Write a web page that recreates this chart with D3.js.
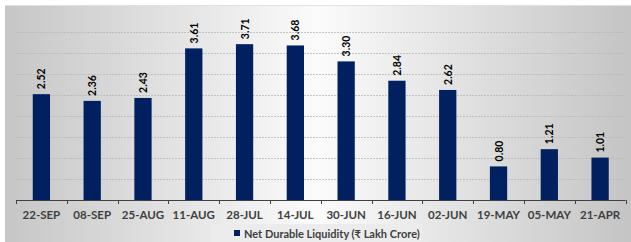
<!DOCTYPE html>
<html><head><meta charset="utf-8">
<script src="https://cdn.jsdelivr.net/npm/d3@7"></script>
<style>body{margin:0;background:#fff}svg{display:block}</style>
</head><body>
<script>
const categories = ["22-SEP","08-SEP","25-AUG","11-AUG","28-JUL","14-JUL","30-JUN","16-JUN","02-JUN","19-MAY","05-MAY","21-APR"];
const values = [2.52,2.36,2.43,3.61,3.71,3.68,3.30,2.84,2.62,0.80,1.21,1.01];
const gridTicks = [0,0.5,1,1.5,2,2.5,3,3.5,4];
const seriesName = "Net Durable Liquidity (₹ Lakh Crore)";

const W=631,H=242;
const svg=d3.select("body").append("svg").attr("width",W).attr("height",H);
const defs=svg.append("defs");
const g=defs.append("linearGradient").attr("id","bg").attr("x1","0").attr("x2","1").attr("y1","0").attr("y2","0");
g.append("stop").attr("offset","0").attr("stop-color","#c6c6c6");
g.append("stop").attr("offset","0.5").attr("stop-color","#fbfbfb");
g.append("stop").attr("offset","1").attr("stop-color","#c4c4c4");
svg.append("rect").attr("x",5).attr("y",5).attr("width",W-5).attr("height",H-5).attr("fill","url(#bg)");
svg.append("line").attr("x1",5).attr("x2",W).attr("y1",5.5).attr("y2",5.5).attr("stroke","#e0e0e0");

const x=d3.scaleBand().domain(categories).range([16,625.5]).paddingInner(0.66).paddingOuter(0.33);
const y=d3.scaleLinear().domain([0,4]).range([200,32]);

svg.append("g").selectAll("line").data(gridTicks.slice(1)).join("line")
 .attr("x1",16).attr("x2",625).attr("y1",d=>Math.round(y(d))+0.5).attr("y2",d=>Math.round(y(d))+0.5)
 .attr("stroke","#b8b8b8").attr("stroke-width",0.8).attr("stroke-dasharray","2,1");

svg.append("g").selectAll("rect").data(values).join("rect")
 .attr("x",(d,i)=>x(categories[i])).attr("width",x.bandwidth())
 .attr("y",d=>y(d)).attr("height",d=>y(0)-y(d)).attr("fill","#002060");

svg.append("g").selectAll("text").data(values).join("text")
 .attr("transform",(d,i)=>`translate(${x(categories[i])+x.bandwidth()/2+4},${y(d)-5}) rotate(-90)`)
 .attr("font-family","Lato, 'Open Sans', sans-serif").attr("font-weight","bold").attr("font-size",10.5)
 .attr("fill","#000").text(d=>d.toFixed(2));

const ax=d3.axisBottom(x).tickSize(0).tickPadding(0);
const axg=svg.append("g").attr("transform","translate(0,200)");
axg.append("line").attr("x1",16).attr("x2",625.5).attr("y1",0.5).attr("y2",0.5).attr("stroke","#404040");
const step=x.step();
const edges=d3.range(categories.length+1).map(i=>16+i*( (625.5-16)/categories.length));
axg.selectAll("line.t").data(edges).join("line").attr("class","t")
 .attr("x1",d=>Math.round(d)+0.5).attr("x2",d=>Math.round(d)+0.5).attr("y1",0).attr("y2",4).attr("stroke","#404040");
axg.selectAll("text.l").data(categories).join("text").attr("class","l")
 .attr("x",d=>x(d)+x.bandwidth()/2).attr("y",19).attr("text-anchor","middle")
 .attr("font-family","Lato, 'Open Sans', sans-serif").attr("font-weight","bold").attr("font-size",11.5)
 .attr("fill","#404040").text(d=>d);

const lg=svg.append("g");
lg.append("rect").attr("x",211).attr("y",224).attr("width",211).attr("height",18).attr("fill","#ececec");
lg.append("rect").attr("x",234).attr("y",230).attr("width",6).attr("height",6).attr("fill","#002060");
lg.append("text").attr("x",244).attr("y",237.5).attr("font-family","Lato, 'Open Sans', sans-serif")
 .attr("font-weight","bold").attr("font-size",11).attr("fill","#404040").text(seriesName);
</script>
</body></html>
